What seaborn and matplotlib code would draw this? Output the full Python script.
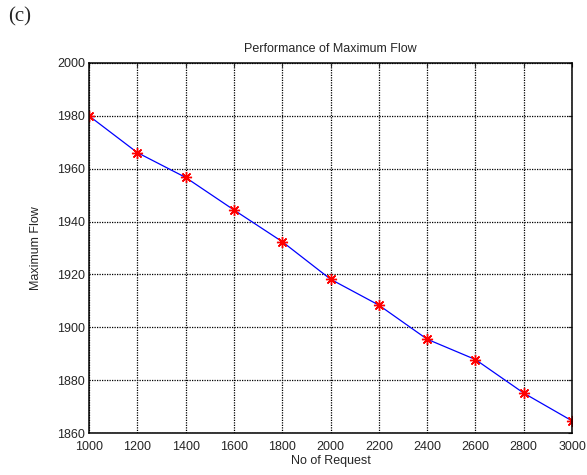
import matplotlib
matplotlib.use("Agg")
import matplotlib.pyplot as plt
import seaborn as sns
import pandas as pd

requests = [1000, 1200, 1400, 1600, 1800, 2000, 2200, 2400, 2600, 2800, 3000]
max_flow = [1980.0, 1966.1, 1956.7, 1944.4, 1932.4, 1918.2, 1908.4, 1895.5, 1887.8, 1875.1, 1864.6]
x_ticks = list(range(1000, 3001, 200))
y_ticks = list(range(1860, 2001, 20))

sns.set_style("white")
plt.rcParams['font.family'] = ['Liberation Sans', 'DejaVu Sans']

df = pd.DataFrame({"No of Request": requests, "Maximum Flow": max_flow})

fig = plt.figure(figsize=(5.87, 4.75), dpi=100)
ax = fig.add_axes([0.1516, 0.0884, 0.8229, 0.779])

sns.lineplot(data=df, x="No of Request", y="Maximum Flow", ax=ax,
             color="blue", linewidth=0.9, marker=(8, 2, 0), markersize=8,
             markerfacecolor="red", markeredgecolor="red", markeredgewidth=1.0)

ax.set_xlim(1000, 3000)
ax.set_ylim(1860, 2000)
ax.set_xticks(x_ticks)
ax.set_yticks(y_ticks)
ax.tick_params(direction="in", labelsize=9, length=3, width=0.8,
               top=True, right=True)
ax.tick_params(axis="x", pad=6)
ax.tick_params(axis="y", pad=3)
for lbl in ax.get_yticklabels():
    lbl.set_verticalalignment("center_baseline")
ax.grid(True, color="black", linestyle=(0, (1, 1)), linewidth=0.9)
for s in ax.spines.values():
    s.set_linewidth(1.1)
    s.set_color("black")
ax.set_xlabel("No of Request", fontsize=9, labelpad=1)
ax.set_ylabel("Maximum Flow", fontsize=9, labelpad=11)
ax.set_title("Performance of Maximum Flow", fontsize=9, pad=8)

fig.text(8/587, 1 - 17/475, "(c)", fontsize=15, family="Liberation Serif",
         va="center", ha="left")

fig.savefig("out.png", dpi=100)
